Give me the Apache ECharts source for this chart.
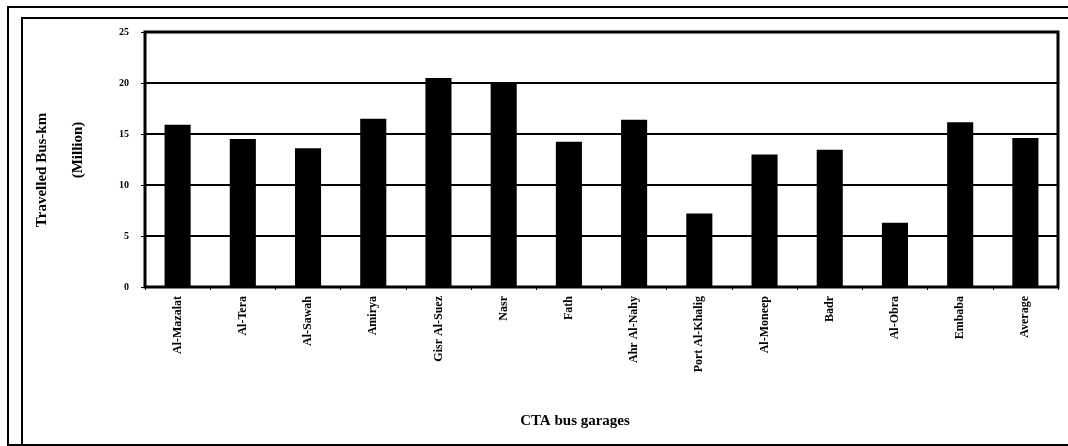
<!DOCTYPE html>
<html><head><meta charset="utf-8">
<script src="https://cdn.jsdelivr.net/npm/echarts@6/dist/echarts.min.js"></script>
<style>html,body{margin:0;padding:0;background:#fff}#c{width:1068px;height:446px}</style>
</head><body><div id="c"></div>
<script>
const categories = ["Al-Mazalat","Al-Tera","Al-Sawah","Amirya","Gisr Al-Suez","Nasr","Fath","Ahr Al-Nahy","Port Al-Khalig","Al-Moneep","Badr","Al-Obra","Embaba","Average"];
const busKm = [15.9, 14.5, 13.6, 16.5, 20.5, 19.95, 14.25, 16.4, 7.2, 13.0, 13.45, 6.3, 16.15, 14.6];
const yTicks = {min: 0, max: 25, interval: 5};
const yTitle = ["Travelled Bus-km", "(Million)"];
const xTitle = "CTA bus garages";

const F = '"Liberation Serif", "DejaVu Serif", serif';
const chart = echarts.init(document.getElementById('c'), null, {renderer: 'canvas'});
chart.setOption({
  animation: false,
  backgroundColor: '#fff',
  grid: {left: 145, right: 10, top: 32, bottom: 159, show: true, borderColor: '#000', borderWidth: 3, backgroundColor: 'transparent'},
  xAxis: {
    type: 'category', data: categories,
    axisLine: {lineStyle: {color: '#000', width: 2}},
    axisTick: {show: true, length: 3, lineStyle: {color: '#000'}},
    axisLabel: {rotate: 90, fontFamily: F, fontWeight: 'bold', fontSize: 12, color: '#000', margin: 9, interval: 0}
  },
  yAxis: {
    type: 'value', min: yTicks.min, max: yTicks.max, interval: yTicks.interval,
    axisLine: {show: true, lineStyle: {color: '#000', width: 2}},
    axisTick: {show: true, length: 4, lineStyle: {color: '#000'}},
    splitLine: {lineStyle: {color: '#000', width: 2}},
    axisLabel: {fontFamily: F, fontWeight: 'bold', fontSize: 10, color: '#000', margin: 16}
  },
  series: [{
    type: 'bar', data: busKm, barCategoryGap: '60%',
    itemStyle: {color: '#000'}
  }],
  graphic: [
    {type: 'rect', shape: {x: 8, y: 7, width: 1080, height: 438}, style: {fill: 'none', stroke: '#000', lineWidth: 2}, silent: true},
    {type: 'rect', shape: {x: 22, y: 18, width: 1080, height: 440}, style: {fill: 'none', stroke: '#000', lineWidth: 2}, silent: true},
    {type: 'text', x: 42, y: 170, rotation: Math.PI/2, style: {text: yTitle[0], font: 'bold 15px ' + F, fill: '#000', align: 'center', verticalAlign: 'middle'}},
    {type: 'text', x: 78, y: 150, rotation: Math.PI/2, style: {text: yTitle[1], font: 'bold 15px ' + F, fill: '#000', align: 'center', verticalAlign: 'middle'}},
    {type: 'text', x: 575, y: 421, style: {text: xTitle, font: 'bold 15px ' + F, fill: '#000', align: 'center', verticalAlign: 'middle'}}
  ]
});
</script></body></html>
